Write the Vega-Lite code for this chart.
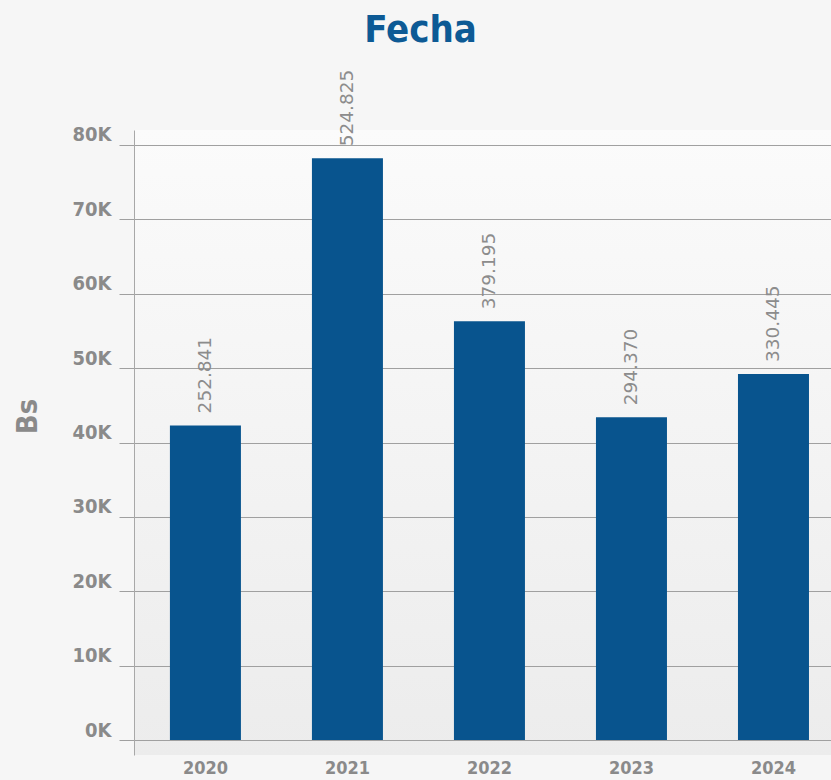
{
  "$schema": "https://vega.github.io/schema/vega-lite/v6.json",
  "width": 697,
  "height": 625,
  "autosize": {"type": "none"},
  "padding": {"left": 134, "top": 130, "right": 0, "bottom": 25},
  "background": "#f6f6f6",
  "title": {
    "text": "Fecha",
    "font": "DejaVu Sans Condensed, sans-serif",
    "fontSize": 38,
    "fontWeight": "bold",
    "color": "#0d5a95",
    "anchor": "middle",
    "frame": "group",
    "dx": -62,
    "offset": 20
  },
  "data": {
    "values": [
      {"Fecha": "2020", "Bs": 42300, "etiqueta": "252.841"},
      {"Fecha": "2021", "Bs": 78200, "etiqueta": "524.825"},
      {"Fecha": "2022", "Bs": 56300, "etiqueta": "379.195"},
      {"Fecha": "2023", "Bs": 43400, "etiqueta": "294.370"},
      {"Fecha": "2024", "Bs": 49200, "etiqueta": "330.445"}
    ]
  },
  "encoding": {
    "x": {
      "field": "Fecha",
      "type": "nominal",
      "scale": {"paddingInner": 0.5, "paddingOuter": 0.204, "align": 0.62},
      "axis": {
        "title": null,
        "domain": false,
        "ticks": false,
        "labelAngle": 0,
        "labelFont": "DejaVu Sans Condensed, sans-serif",
        "labelFontSize": 18,
        "labelFontWeight": "bold",
        "labelColor": "#8a8a8a",
        "labelPadding": 4
      }
    },
    "y": {
      "field": "Bs",
      "type": "quantitative",
      "scale": {"domain": [-2000, 82000], "nice": false, "zero": false},
      "axis": {
        "values": [0, 10000, 20000, 30000, 40000, 50000, 60000, 70000, 80000],
        "labelExpr": "(datum.value / 1000) + 'K'",
        "grid": true,
        "gridColor": "#a0a0a0",
        "gridOpacity": 1,
        "tickColor": "#a0a0a0",
        "tickSize": 15,
        "domainColor": "#a8a8a8",
        "labelFont": "DejaVu Sans Condensed, sans-serif",
        "labelFontSize": 20,
        "labelFontWeight": "bold",
        "labelColor": "#8a8a8a",
        "labelPadding": 8,
        "labelBaseline": "alphabetic",
        "labelOffset": -4,
        "title": "Bs",
        "titleFont": "DejaVu Sans Condensed, sans-serif",
        "titleFontSize": 29,
        "titleFontWeight": "bold",
        "titleColor": "#8a8a8a",
        "titleAngle": -90,
        "titleAlign": "center",
        "titleBaseline": "middle",
        "titleX": -107,
        "titleY": 286
      }
    }
  },
  "layer": [
    {"mark": {"type": "bar", "color": "#08548e"}},
    {
      "mark": {
        "type": "text",
        "angle": -90,
        "align": "left",
        "baseline": "middle",
        "dx": 12,
        "font": "DejaVu Sans, sans-serif",
        "fontSize": 18.5,
        "color": "#8c8c8c"
      },
      "encoding": {"text": {"field": "etiqueta", "type": "nominal"}}
    }
  ],
  "config": {
    "view": {
      "stroke": null,
      "fill": {
        "gradient": "linear",
        "x1": 0, "y1": 0, "x2": 0, "y2": 1,
        "stops": [
          {"offset": 0, "color": "#fbfbfb"},
          {"offset": 1, "color": "#ececec"}
        ]
      }
    }
  }
}
